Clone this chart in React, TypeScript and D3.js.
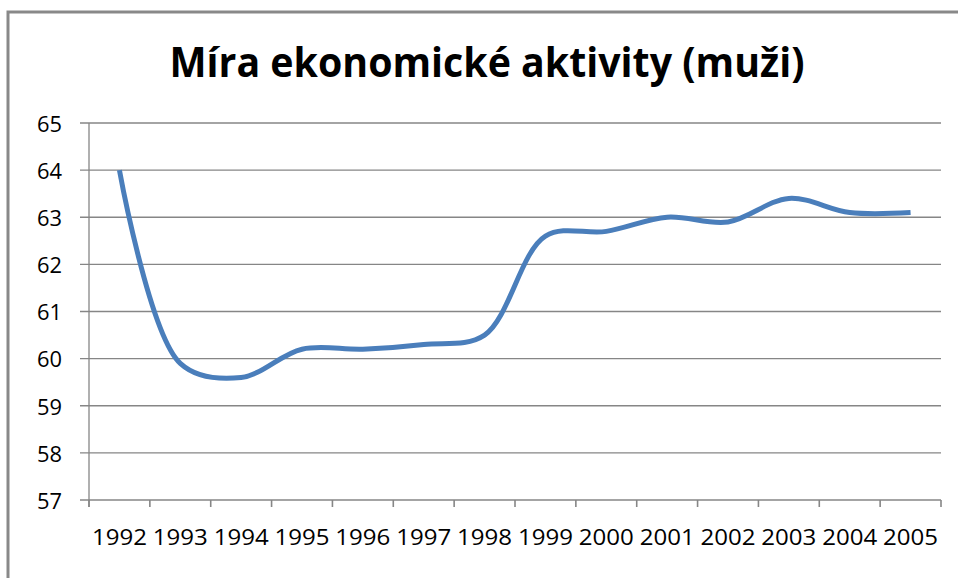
import React from "react";
import * as d3 from "d3";

const years = ["1992", "1993", "1994", "1995", "1996", "1997", "1998", "1999", "2000", "2001", "2002", "2003", "2004", "2005"];
const rate = [64.0, 59.9, 59.6, 60.2, 60.2, 60.3, 60.5, 62.6, 62.7, 63.0, 62.9, 63.4, 63.1, 63.1];
const yTicks = [57, 58, 59, 60, 61, 62, 63, 64, 65];
const title = "Míra ekonomické aktivity (muži)";

const W = 958;
const H = 578;
const font = "'Open Sans', 'DejaVu Sans', sans-serif";

export default function App() {
  const left = 89;
  const right = 941;
  const top = 123;
  const bottom = 500;

  const x = d3.scaleBand<string>().domain(years).range([left, right]);
  const y = d3.scaleLinear().domain([57, 65]).range([bottom, top]);

  const line = d3
    .line<number>()
    .x((d, i) => (x(years[i]) as number) + x.bandwidth() / 2)
    .y((d) => y(d))
    .curve(d3.curveCatmullRom.alpha(0.5));

  const tickXs = years.map((yr) => x(yr) as number).concat([right]);

  return (
    <svg width={W} height={H} style={{ position: "absolute", left: 0, top: 0, background: "#fff" }}>
      <rect x={8} y={12} width={1200} height={1200} fill="#fff" stroke="#898989" strokeWidth={3} />

      <text
        x={487}
        y={77}
        textAnchor="middle"
        fontFamily={font}
        fontWeight="bold"
        fontSize={42}
        textLength={635}
        lengthAdjust="spacingAndGlyphs"
        fill="#000"
      >
        {title}
      </text>

      {/* gridlines + y labels */}
      {yTicks.map((t) => (
        <g key={t}>
          <line x1={left - 9} x2={right} y1={y(t)} y2={y(t)} stroke="#868686" strokeWidth={1.3} />
          <text x={62} y={y(t)} dy="0.42em" textAnchor="end" fontFamily={font} fontSize={21} textLength={25} lengthAdjust="spacingAndGlyphs" fill="#000">
            {t}
          </text>
        </g>
      ))}

      {/* axes */}
      <line x1={left} x2={left} y1={top} y2={bottom + 7} stroke="#868686" strokeWidth={1.3} />
      {tickXs.map((tx, i) => (
        <line key={i} x1={tx} x2={tx} y1={bottom} y2={bottom + 7} stroke="#868686" strokeWidth={1.6} />
      ))}
      {years.map((yr) => (
        <text
          key={yr}
          x={(x(yr) as number) + x.bandwidth() / 2}
          y={545}
          textAnchor="middle"
          fontFamily={font}
          fontSize={21}
          textLength={55}
          lengthAdjust="spacingAndGlyphs"
          fill="#000"
        >
          {yr}
        </text>
      ))}

      <path d={line(rate) ?? ""} fill="none" stroke="#4a7ebb" strokeWidth={5} strokeLinecap="butt" />
    </svg>
  );
}
